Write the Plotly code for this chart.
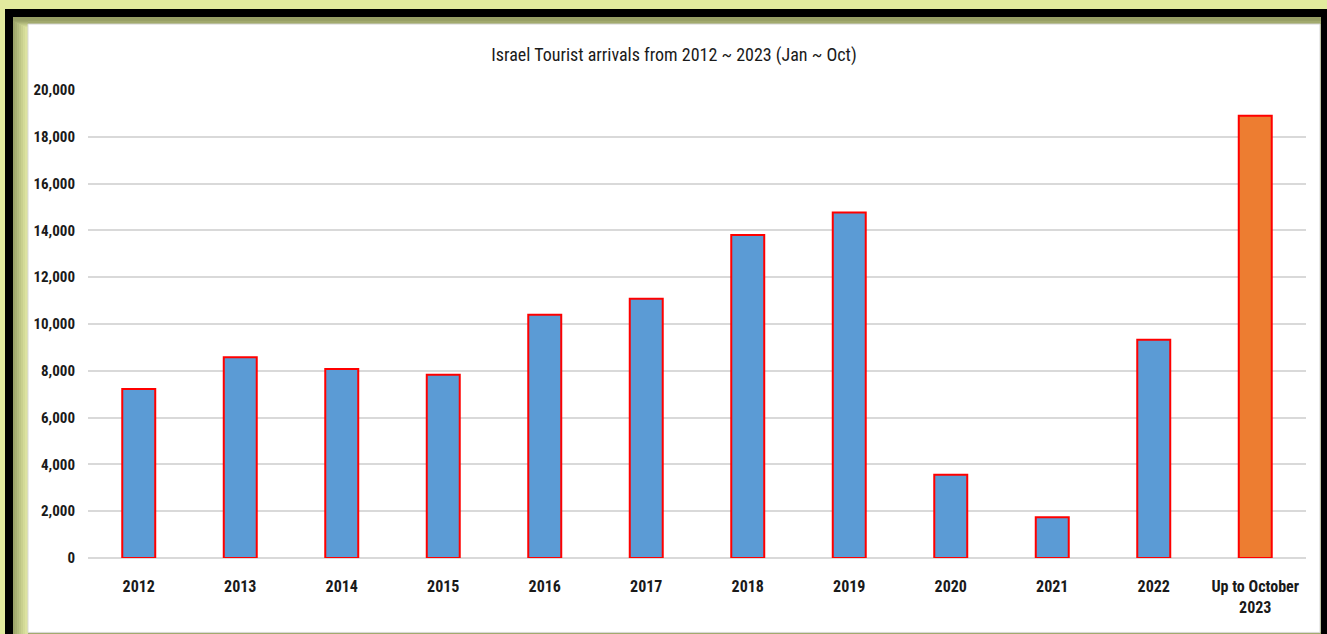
import plotly.graph_objects as go

# ---- data ----
categories = ["2012", "2013", "2014", "2015", "2016", "2017", "2018", "2019",
              "2020", "2021", "2022", "Up to October<br>2023"]
arrivals = [7220, 8580, 8080, 7830, 10400, 11080, 13800, 14760, 3560, 1740, 9330, 18900]
y_ticks = [0, 2000, 4000, 6000, 8000, 10000, 12000, 14000, 16000, 18000, 20000]
title_text = "Israel Tourist arrivals from 2012 ~ 2023 (Jan ~ Oct)"

# ---- geometry ----
FW, FH = 1327, 634
L, R, T, B = 88, 21, 90, 75.5
W, H = FW - L - R, FH - T - B


def px(x):
    return (x - L) / W


def py(y):
    return (FH - B - y) / H


FONT = "Roboto Condensed, DejaVu Sans Condensed, Roboto, sans-serif"
BLUE, ORANGE = "#5B9BD5", "#ED7D31"
bar_colors = [BLUE] * (len(categories) - 1) + [ORANGE]

fig = go.Figure(go.Bar(
    x=categories, y=arrivals,
    marker=dict(color=bar_colors, line=dict(color="#FF0000", width=2)),
    hoverinfo="x+y",
))

shapes = []


def rect(x0, y0, x1, y1, fill, line=None):
    shapes.append(dict(type="rect", xref="paper", yref="paper", layer="below",
                       x0=px(x0), x1=px(x1), y0=py(y1), y1=py(y0),
                       fillcolor=fill,
                       line=dict(width=0) if line is None else line))


# black frame, olive inner shadow, white chart area
rect(5, 9, FW + 5, FH + 5, "#000000")
rect(13, 17, 1321, FH + 5, "#A2AA6E")
rect(13, 17, 1321, 21, "#98A066")
left_shades = ["#9EA66B", "#A8B073", "#B3BB7D", "#BEC686", "#C9D08F", "#D3DA98", "#DCE2A0"]
for i, c in enumerate(left_shades):
    rect(13 + i * 2, 21 + i, 28, FH + 5, c)
rect(28, 24, 1320, 633, "#FFFFFF", dict(color="#D9D9D9", width=1))

fig.update_layout(
    width=FW, height=FH,
    margin=dict(l=L, r=R, t=T, b=B, pad=0),
    paper_bgcolor="#E2EA9E",
    plot_bgcolor="rgba(0,0,0,0)",
    shapes=shapes,
    bargap=0.675,
    showlegend=False,
    title=dict(text=title_text, xref="container", yref="container",
               x=674 / FW, y=1 - 55 / FH, xanchor="center", yanchor="middle",
               font=dict(family=FONT, size=18, color="#1a1a1a")),
    font=dict(family=FONT, color="#1a1a1a"),
)
fig.update_xaxes(
    type="category", showgrid=False, showline=False, ticks="",
    tickfont=dict(family=FONT, size=16, color="#1a1a1a", weight="bold"),
    ticklabelstandoff=17,
)
fig.update_yaxes(
    range=[0, 20000], tickvals=y_ticks, tickformat=",d",
    showgrid=True, gridcolor="#D9D9D9", gridwidth=1.5,
    zeroline=True, zerolinecolor="#D9D9D9", zerolinewidth=1.5,
    showline=False, ticks="",
    tickfont=dict(family=FONT, size=15, color="#1a1a1a", weight="bold"),
    ticklabelstandoff=12,
)

fig.write_html("out.html", config={"displayModeBar": False},
               post_script="document.body.style.margin='0';")
